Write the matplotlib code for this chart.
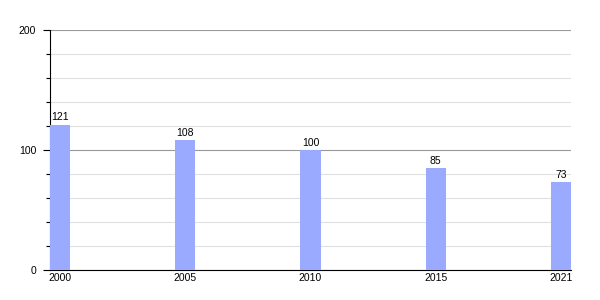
import matplotlib

matplotlib.use("Agg")
import matplotlib.pyplot as plt
from matplotlib.ticker import MultipleLocator

years = ["2000", "2005", "2010", "2015", "2021"]
values = [121, 108, 100, 85, 73]

plt.rcParams["font.family"] = ["Liberation Sans", "DejaVu Sans"]

fig = plt.figure(figsize=(6, 3), dpi=100)
ax = fig.add_axes([50 / 600, 0.1, 521 / 600, 0.8])

pos = list(range(len(years)))
ax.bar(pos, values, width=0.16, color="#99aaff", zorder=3)
for x, v in zip(pos, values):
    ax.text(x, v + 2, str(v), ha="center", va="bottom", fontsize=7.5, color="#000000")

ax.set_xlim(-0.08, 4.08)
ax.set_ylim(0, 200)
ax.set_xticks(pos)
ax.set_xticklabels(years)
ax.yaxis.set_major_locator(MultipleLocator(100))
ax.yaxis.set_minor_locator(MultipleLocator(20))
ax.grid(which="minor", axis="y", color="#e0e0e0", linewidth=0.8, zorder=0)
ax.grid(which="major", axis="y", color="#999999", linewidth=0.8, zorder=1)
ax.tick_params(axis="x", length=0, pad=2, labelsize=7.5)
ax.tick_params(axis="y", which="major", length=5, width=0.8, pad=5, labelsize=7.5)
ax.tick_params(axis="y", which="minor", length=3, width=0.8)
for side in ("top", "right"):
    ax.spines[side].set_visible(False)
ax.spines["left"].set_color("#000000")
ax.spines["bottom"].set_color("#000000")

fig.savefig("out.png", dpi=100)
